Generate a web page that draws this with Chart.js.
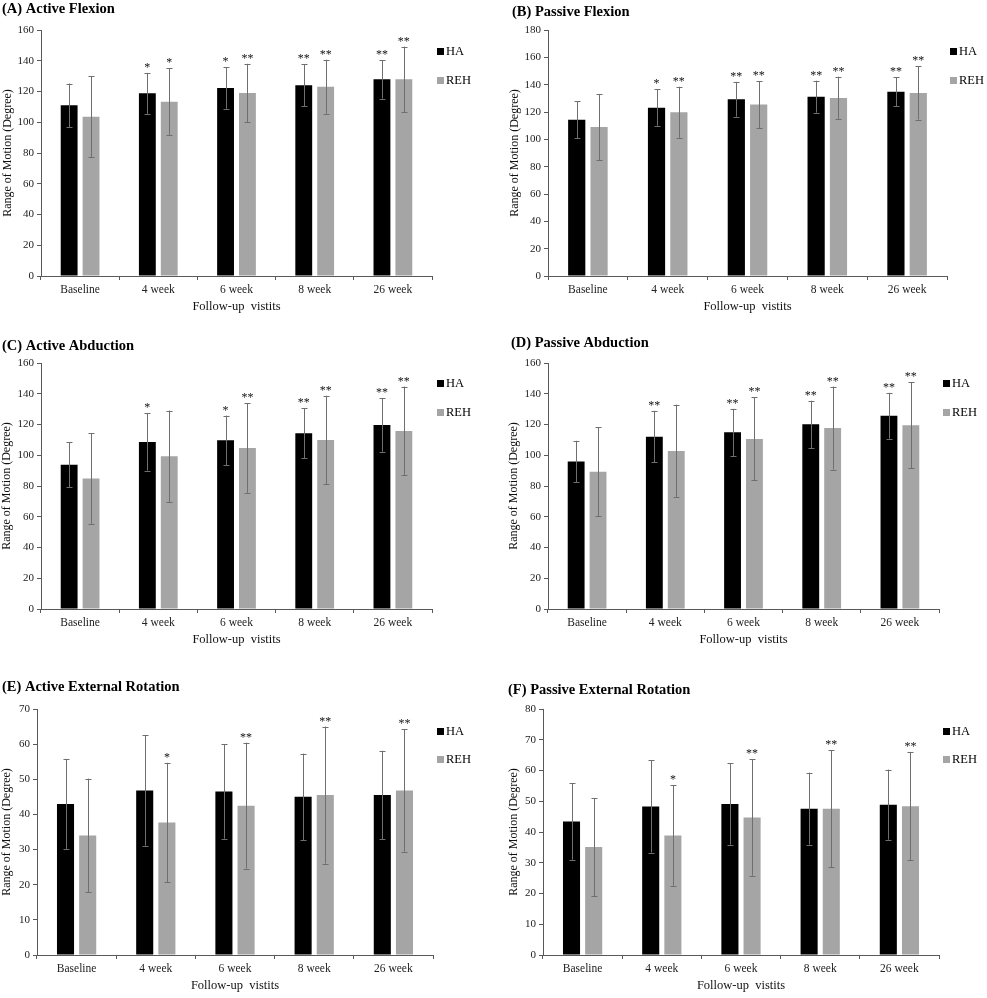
<!DOCTYPE html>
<html>
<head>
<meta charset="utf-8">
<script src="https://cdn.jsdelivr.net/npm/chart.js@4.4.0/dist/chart.umd.min.js"></script>
<style>
  body { margin: 0; background: #fff; width: 987px; height: 998px; overflow: hidden; position: relative; }
  .panel { position: absolute; }
</style>
</head>
<body>
<div class="panel" id="panelA"><canvas id="chartA"></canvas></div>
<div class="panel" id="panelB"><canvas id="chartB"></canvas></div>
<div class="panel" id="panelC"><canvas id="chartC"></canvas></div>
<div class="panel" id="panelD"><canvas id="chartD"></canvas></div>
<div class="panel" id="panelE"><canvas id="chartE"></canvas></div>
<div class="panel" id="panelF"><canvas id="chartF"></canvas></div>
<script>
const VISITS = ['Baseline', '4 week', '6 week', '8 week', '26 week'];

// (A) Active Flexion
const HA_A = [111.0, 118.8, 122.3, 124.0, 127.9];
const HA_A_SD = [14.2, 13.3, 13.5, 13.7, 12.5];
const REH_A = [103.6, 113.4, 119.0, 123.1, 127.9];
const REH_A_SD = [26.5, 21.8, 19.0, 17.6, 21.3];
const HA_A_SIG = ['', '*', '*', '**', '**'];
const REH_A_SIG = ['', '*', '**', '**', '**'];

// (B) Passive Flexion
const HA_B = [114.4, 123.2, 129.3, 131.2, 134.9];
const HA_B_SD = [13.5, 13.3, 12.7, 11.7, 10.6];
const REH_B = [109.0, 119.8, 125.4, 130.2, 133.9];
const REH_B_SD = [24.1, 18.7, 17.1, 15.6, 19.4];
const HA_B_SIG = ['', '*', '**', '**', '**'];
const REH_B_SIG = ['', '**', '**', '**', '**'];

// (C) Active Abduction
const HA_C = [93.9, 108.6, 109.7, 114.3, 119.7];
const HA_C_SD = [14.6, 18.6, 16.1, 16.4, 17.4];
const REH_C = [84.8, 99.3, 104.7, 109.9, 115.8];
const REH_C_SD = [29.4, 29.8, 29.2, 28.8, 28.9];
const HA_C_SIG = ['', '*', '*', '**', '**'];
const REH_C_SIG = ['', '', '**', '**', '**'];

// (D) Passive Abduction
const HA_D = [96.0, 112.1, 114.9, 120.1, 125.7];
const HA_D_SD = [13.4, 16.8, 15.3, 15.4, 14.9];
const REH_D = [89.3, 102.8, 110.6, 117.7, 119.5];
const REH_D_SD = [29.0, 30.1, 27.0, 27.0, 28.1];
const HA_D_SIG = ['', '**', '**', '**', '**'];
const REH_D_SIG = ['', '', '**', '**', '**'];

// (E) Active External Rotation
const HA_E = [43.0, 46.8, 46.5, 45.0, 45.5];
const HA_E_SD = [12.8, 15.7, 13.4, 12.3, 12.6];
const REH_E = [34.0, 37.7, 42.5, 45.5, 46.8];
const REH_E_SD = [16.2, 17.0, 17.9, 19.5, 17.4];
const HA_E_SIG = ['', '', '', '', ''];
const REH_E_SIG = ['', '*', '**', '**', '**'];

// (F) Passive External Rotation
const HA_F = [43.4, 48.3, 49.1, 47.6, 48.9];
const HA_F_SD = [12.4, 15.0, 13.2, 11.7, 11.4];
const REH_F = [35.1, 38.9, 44.7, 47.6, 48.4];
const REH_F_SD = [15.9, 16.4, 18.9, 19.0, 17.5];
const HA_F_SIG = ['', '', '', '', ''];
const REH_F_SIG = ['', '*', '**', '**', '**'];

const SERIF = "'Liberation Serif', 'Times New Roman', serif";
const HA_COLOR = '#000000';
const REH_COLOR = '#a5a5a5';
const AXIS_COLOR = '#595959';
const ERR_COLOR = '#6f6f6f';

// error bars, significance stars, panel title and legend
const decorPlugin = {
  id: 'decor',
  afterDatasetsDraw(chart) {
    const { ctx } = chart;
    const yScale = chart.scales.y;
    ctx.save();
    chart.data.datasets.forEach((ds, di) => {
      const meta = chart.getDatasetMeta(di);
      meta.data.forEach((bar, i) => {
        const hi = yScale.getPixelForValue(ds.data[i] + ds.sd[i]);
        const lo = yScale.getPixelForValue(ds.data[i] - ds.sd[i]);
        const x = Math.round(bar.x) + 0.5;
        ctx.strokeStyle = ERR_COLOR;
        ctx.lineWidth = 1;
        ctx.beginPath();
        ctx.moveTo(x, hi); ctx.lineTo(x, lo);
        ctx.moveTo(x - 3, Math.round(hi) + 0.5); ctx.lineTo(x + 3, Math.round(hi) + 0.5);
        ctx.moveTo(x - 3, Math.round(lo) + 0.5); ctx.lineTo(x + 3, Math.round(lo) + 0.5);
        ctx.stroke();
        if (ds.sig[i]) {
          ctx.fillStyle = '#111';
          ctx.font = '12px ' + SERIF;
          ctx.textAlign = 'center';
          ctx.textBaseline = 'alphabetic';
          ctx.fillText(ds.sig[i], bar.x, hi - 2);
        }
      });
    });
    ctx.restore();
  },
  afterDraw(chart, args, opts) {
    const { ctx } = chart;
    ctx.save();
    ctx.fillStyle = '#000';
    ctx.font = 'bold 14.5px ' + SERIF;
    ctx.textAlign = 'left';
    ctx.textBaseline = 'middle';
    ctx.fillText(opts.title, opts.titleX, opts.titleY);
    ctx.font = '12.5px ' + SERIF;
    chart.data.datasets.forEach((ds, di) => {
      const y = opts.legendY[di];
      ctx.fillStyle = ds.backgroundColor;
      ctx.fillRect(opts.legendX, y - 3, 7, 7);
      ctx.fillStyle = '#000';
      ctx.fillText(ds.label, opts.legendX + 9, y + 1);
    });
    ctx.restore();
  }
};

const makePanel = (p) => {
  const holder = document.getElementById(p.holder);
  holder.style.left = p.left + 'px';
  holder.style.top = p.top + 'px';
  const canvas = document.getElementById(p.canvas);
  canvas.width = p.width;
  canvas.height = p.plotBottom + 42;
  canvas.style.width = p.width + 'px';
  canvas.style.height = (p.plotBottom + 42) + 'px';

  return new Chart(canvas, {
    type: 'bar',
    data: {
      labels: VISITS,
      datasets: [
        { label: 'HA', data: p.ha, sd: p.haSd, sig: p.haSig, backgroundColor: HA_COLOR },
        { label: 'REH', data: p.reh, sd: p.rehSd, sig: p.rehSig, backgroundColor: REH_COLOR },
      ]
    },
    options: {
      responsive: false,
      animation: false,
      devicePixelRatio: 1,
      categoryPercentage: 0.56,
      barPercentage: 0.77,
      layout: {
        padding: { left: 0, top: p.plotTop, right: p.width - p.plotRight, bottom: 0 }
      },
      plugins: {
        legend: { display: false },
        tooltip: { enabled: false },
        decor: {
          title: p.title, titleX: p.titleX, titleY: p.titleY,
          legendX: p.legendX, legendY: p.legendY
        }
      },
      scales: {
        x: {
          grid: { display: true, drawOnChartArea: false, offset: true, tickLength: 4, color: AXIS_COLOR },
          border: { color: AXIS_COLOR, width: 1 },
          ticks: { color: '#222', font: { family: SERIF, size: 11.5 }, padding: 3, maxRotation: 0 },
          title: {
            display: true, text: 'Follow-up  vistits', color: '#111',
            font: { family: SERIF, size: 12.5 }, padding: { top: 0, bottom: 4 }
          },
          afterFit: (scale) => { scale.height = 42; }
        },
        y: {
          min: 0,
          max: p.yMax,
          grid: { display: true, drawOnChartArea: false, tickLength: 4, color: AXIS_COLOR },
          border: { color: AXIS_COLOR, width: 1 },
          ticks: { stepSize: p.yStep, color: '#222', font: { family: SERIF, size: 11 }, padding: 3 },
          title: {
            display: true, text: 'Range of Motion (Degree)', color: '#111',
            font: { family: SERIF, size: 12 }, padding: { top: p.yTitleX - 7.2, bottom: 0 }
          },
          afterFit: (scale) => { scale.width = p.plotLeft; }
        }
      }
    },
    plugins: [decorPlugin]
  });
};

makePanel({
  holder: 'panelA', canvas: 'chartA', left: 0, top: 0, width: 490,
  plotLeft: 41, plotRight: 432, plotTop: 30, plotBottom: 276, yTitleX: 8,
  title: '(A) Active Flexion', titleX: 2, titleY: 9, legendX: 437, legendY: [51, 80],
  yMax: 160, yStep: 20,
  ha: HA_A, haSd: HA_A_SD, haSig: HA_A_SIG, reh: REH_A, rehSd: REH_A_SD, rehSig: REH_A_SIG
});
makePanel({
  holder: 'panelB', canvas: 'chartB', left: 495, top: 0, width: 492,
  plotLeft: 53, plotRight: 452, plotTop: 30, plotBottom: 276, yTitleX: 20,
  title: '(B) Passive Flexion', titleX: 17, titleY: 12, legendX: 455, legendY: [51, 80],
  yMax: 180, yStep: 20,
  ha: HA_B, haSd: HA_B_SD, haSig: HA_B_SIG, reh: REH_B, rehSd: REH_B_SD, rehSig: REH_B_SIG
});
makePanel({
  holder: 'panelC', canvas: 'chartC', left: 0, top: 330, width: 490,
  plotLeft: 41, plotRight: 432, plotTop: 33, plotBottom: 279, yTitleX: 7,
  title: '(C) Active Abduction', titleX: 2, titleY: 16, legendX: 437, legendY: [53, 82],
  yMax: 160, yStep: 20,
  ha: HA_C, haSd: HA_C_SD, haSig: HA_C_SIG, reh: REH_C, rehSd: REH_C_SD, rehSig: REH_C_SIG
});
makePanel({
  holder: 'panelD', canvas: 'chartD', left: 495, top: 330, width: 492,
  plotLeft: 53, plotRight: 444, plotTop: 33, plotBottom: 279, yTitleX: 19,
  title: '(D) Passive Abduction', titleX: 16, titleY: 13, legendX: 448, legendY: [53, 82],
  yMax: 160, yStep: 20,
  ha: HA_D, haSd: HA_D_SD, haSig: HA_D_SIG, reh: REH_D, rehSd: REH_D_SD, rehSig: REH_D_SIG
});
makePanel({
  holder: 'panelE', canvas: 'chartE', left: 0, top: 670, width: 490,
  plotLeft: 37, plotRight: 433, plotTop: 39, plotBottom: 285, yTitleX: 7,
  title: '(E) Active External Rotation', titleX: 2, titleY: 17, legendX: 437, legendY: [61, 89],
  yMax: 70, yStep: 10,
  ha: HA_E, haSd: HA_E_SD, haSig: HA_E_SIG, reh: REH_E, rehSd: REH_E_SD, rehSig: REH_E_SIG
});
makePanel({
  holder: 'panelF', canvas: 'chartF', left: 495, top: 670, width: 492,
  plotLeft: 48, plotRight: 444, plotTop: 39, plotBottom: 285, yTitleX: 19,
  title: '(F) Passive External Rotation', titleX: 13, titleY: 20, legendX: 448, legendY: [61, 89],
  yMax: 80, yStep: 10,
  ha: HA_F, haSd: HA_F_SD, haSig: HA_F_SIG, reh: REH_F, rehSd: REH_F_SD, rehSig: REH_F_SIG
});
</script>
</body>
</html>
